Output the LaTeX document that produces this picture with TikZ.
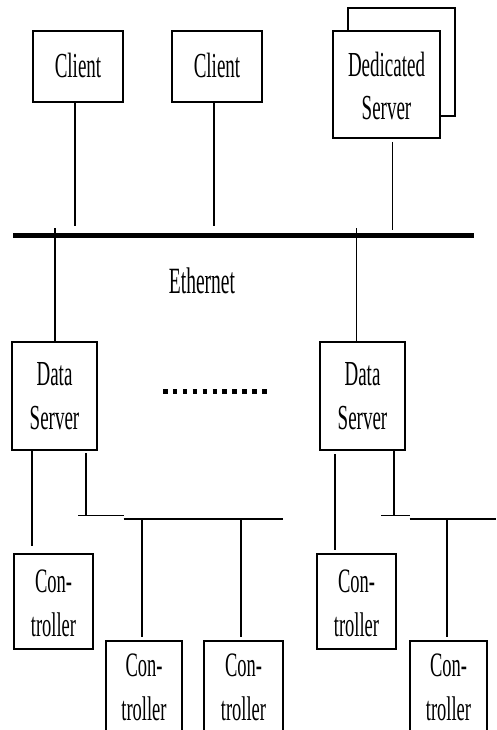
\documentclass[tikz,border=0pt]{standalone}
\usepackage{fontspec}
\usepackage{graphicx}
\setmainfont{Liberation Serif}
\newcommand\vtxt[2][0pt]{\raisebox{#1}[\height][\depth]{\scalebox{1}[1.85]{\begin{tabular}{@{}c@{}}#2\end{tabular}}}}
\begin{document}
\begin{tikzpicture}[x=1pt,y=-1pt,
  box/.style={draw,line width=1.5pt,fill=white,inner sep=0pt,font=\fontsize{19}{23.5}\selectfont},
  conn/.style={line width=1.2pt},
  bus/.style={line width=1.8pt},
  ether/.style={line width=5.5pt}]
\clip (0,0) rectangle (496,730);
\fill[white] (0,0) rectangle (496,730);
% clients
\node[box,minimum width=90pt,minimum height=71pt] (c1) at (78,66.5) {\vtxt[-2pt]{Client}};
\node[box,minimum width=90pt,minimum height=71pt] (c2) at (217,66.5) {\vtxt[-2pt]{Client}};
% dedicated server (stacked)
\node[box,minimum width=107pt,minimum height=108pt] (dsb) at (401.5,62) {};
\node[box,minimum width=107pt,minimum height=107pt] (ds) at (386.5,84.5) {\vtxt[-5pt]{Dedicated\\Server}};
% ethernet
\coordinate (eL) at (13,235.5);
\coordinate (eR) at (474,235.5);
\draw[ether] (eL) -- (eR);
\node[font=\fontsize{19.5}{23}\selectfont] (eth) at (202,281) {\scalebox{1}[1.9]{Ethernet}};
\coordinate (c1b) at (75,226);
\coordinate (c2b) at (214,226);
\coordinate (dsbt) at (392.5,230);
\draw[conn] (c1b |- c1.south) -- (c1b);
\draw[conn] (c2b |- c2.south) -- (c2b);
\draw[conn] (392.5,142) coordinate (dst) -- (dsbt);
% data servers
\node[box,minimum width=85pt,minimum height=108pt] (dL) at (54.5,396) {\vtxt[-3pt]{Data\\Server}};
\node[box,minimum width=85pt,minimum height=108pt] (dR) at (362.5,396) {\vtxt[-3pt]{Data\\Server}};
\coordinate (tL) at (55,228);
\coordinate (tR) at (356.5,228);
\draw[conn] (tL) -- (tL |- dL.north);
\draw[conn] (tR) -- (tR |- dR.north);
% dots
\coordinate (dotA) at (163,391);
\coordinate (dotB) at (267,391);
\draw[line width=5pt,dash pattern=on 4.5pt off 5.4pt] (dotA) -- (dotB);
% controllers
\node[box,minimum width=79pt,minimum height=95pt] (kL1) at (53.5,601.5) {\fontsize{18.5}{24}\selectfont\vtxt[-4pt]{Con-\\troller}};
\node[box,minimum width=76pt,minimum height=95pt] (kL2) at (144,688.5) {\fontsize{18.5}{24}\selectfont\vtxt[-1pt]{Con-\\troller}};
\node[box,minimum width=79pt,minimum height=95pt] (kL3) at (243.5,688.5) {\fontsize{18.5}{24}\selectfont\vtxt[-1pt]{Con-\\troller}};
\node[box,minimum width=79pt,minimum height=95pt] (kR1) at (356.5,601.5) {\fontsize{18.5}{24}\selectfont\vtxt[-4pt]{Con-\\troller}};
\node[box,minimum width=77pt,minimum height=95pt] (kR2) at (448.5,688.5) {\fontsize{18.5}{24}\selectfont\vtxt[-1pt]{Con-\\troller}};
% left sub-bus
\coordinate (sLa) at (78,515.5);
\coordinate (sLb) at (123.5,515.5);
\coordinate (sLc) at (123.5,519);
\coordinate (sLd) at (283,519);
\draw[bus] (sLa) -- (sLb);
\draw[bus] (sLc) -- (sLd);
\draw[conn] (32,450) coordinate (aL1) -- (32,546) coordinate (aL1e);
\draw[conn] (86,453) coordinate (aL2) -- (86,515.5) coordinate (aL2e);
\draw[conn] (142,519) coordinate (bL2) -- (142,637) coordinate (bL2e);
\draw[conn] (241,519) coordinate (bL3) -- (241,637) coordinate (bL3e);
% right sub-bus
\coordinate (sRa) at (381,515.5);
\coordinate (sRb) at (409.5,515.5);
\coordinate (sRc) at (409.5,519);
\coordinate (sRd) at (496,519);
\draw[bus] (sRa) -- (sRb);
\draw[bus] (sRc) -- (sRd);
\draw[conn] (335,454) coordinate (aR1) -- (335,550) coordinate (aR1e);
\draw[conn] (394,450) coordinate (aR2) -- (394,515.5) coordinate (aR2e);
\draw[conn] (447,519) coordinate (bR2) -- (447,637) coordinate (bR2e);
\end{tikzpicture}
\end{document}
